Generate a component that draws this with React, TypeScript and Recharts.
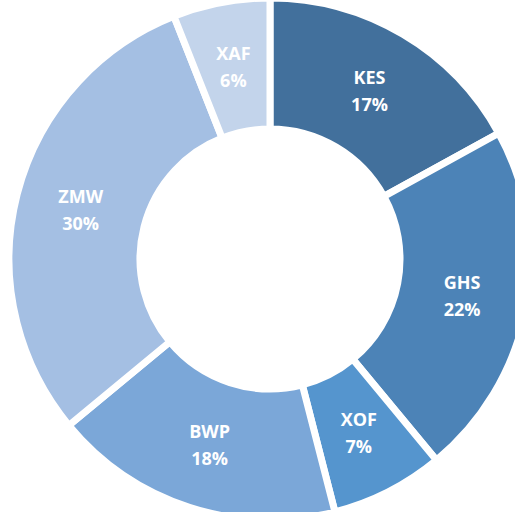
import { PieChart, Pie, Cell } from "recharts";

const currencies = ["KES", "GHS", "XOF", "BWP", "ZMW", "XAF"];
const shares = [17, 22, 7, 18, 30, 6];
const colors = ["#42709C", "#4C83B7", "#5595CE", "#7BA7D8", "#A4BFE3", "#C3D4EB"];

const rows = currencies.map((c, i) => ({ name: c, value: shares[i] }));

const RAD = Math.PI / 180;

function SliceLabel(props: any) {
  const { cx, cy, midAngle, innerRadius, outerRadius, name, value } = props;
  const r = (innerRadius + outerRadius) / 2;
  const x = cx + r * Math.cos(-midAngle * RAD);
  const y = cy + r * Math.sin(-midAngle * RAD);
  return (
    <text x={x} y={y} fill="#fff" textAnchor="middle" fontFamily="'Open Sans', sans-serif"
      fontWeight={700} fontSize={18}>
      <tspan x={x} y={y - 14} dominantBaseline="central">{name}</tspan>
      <tspan x={x} y={y + 13} dominantBaseline="central">{value}%</tspan>
    </text>
  );
}

export default function App() {
  // pinned to the page corner so the body margin can't push out scrollbars
  return (
    <div style={{ position: "absolute", top: 0, left: 0, width: 515, height: 512, overflow: "hidden" }}>
      <PieChart width={515} height={512} margin={{ top: 0, right: 0, bottom: 0, left: 0 }}>
        <Pie data={rows} dataKey="value" nameKey="name" cx={270} cy={259}
          innerRadius={130} outerRadius={261} startAngle={90} endAngle={-270}
          stroke="#fff" strokeWidth={7} label={SliceLabel} labelLine={false}
          isAnimationActive={false}>
          {rows.map((r, i) => <Cell key={r.name} fill={colors[i]} />)}
        </Pie>
      </PieChart>
    </div>
  );
}
